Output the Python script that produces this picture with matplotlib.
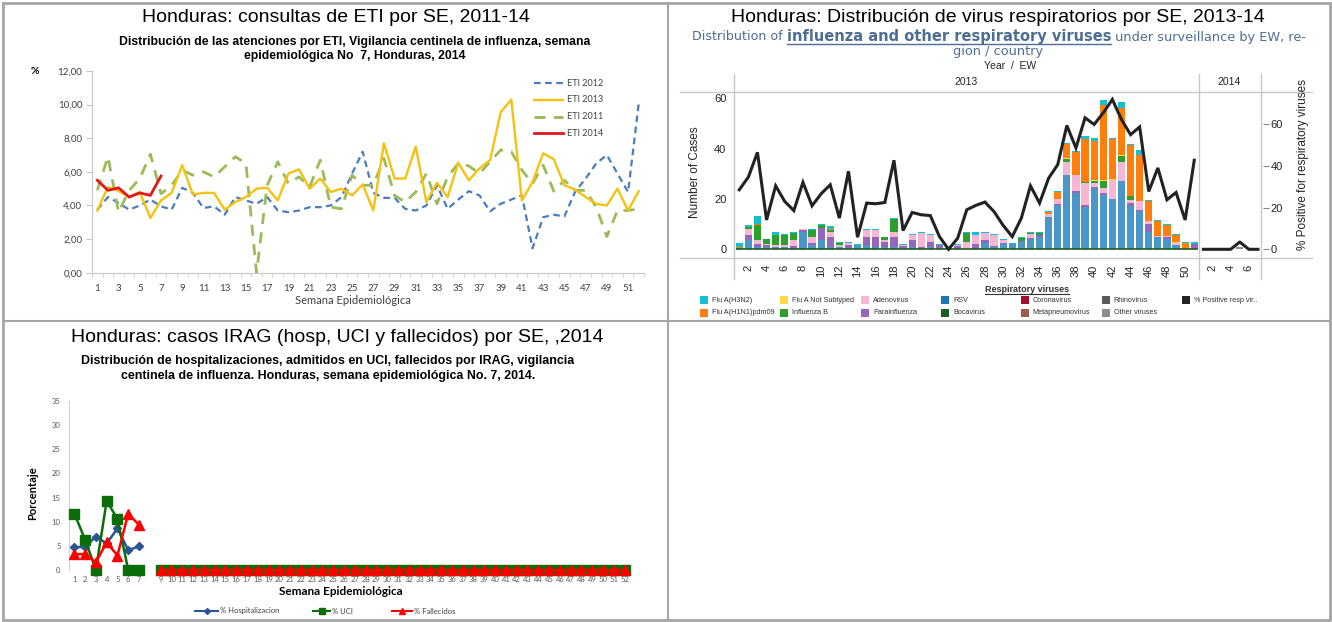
import matplotlib
matplotlib.use("Agg")
import matplotlib.pyplot as plt
from matplotlib.lines import Line2D
from matplotlib.patches import Rectangle
import numpy as np

plt.rcParams['font.family'] = ['Liberation Sans', 'DejaVu Sans']

W, H = 1332, 622
fig = plt.figure(figsize=(W / 100, H / 100), dpi=100)


def rect(l, t, r, b):
    return [l / W, 1 - b / H, (r - l) / W, (b - t) / H]


def fx(x):
    return x / W


def fy(y):
    return 1 - y / H


def fline(xs, ys, **kw):
    fig.add_artist(Line2D([fx(x) for x in xs], [fy(y) for y in ys],
                          transform=fig.transFigure, **kw))


# ---------------- data: ETI (panel 1) ----------------
eti_weeks = list(range(1, 53))
eti_2012 = [3.75, 4.5, 4.15, 3.75, 4.0, 4.35, 3.95, 3.75, 5.05, 4.75, 3.85, 3.95, 3.45,
            4.5, 4.3, 4.1, 4.5, 3.7, 3.6, 3.7, 3.9, 3.9, 4.0, 4.5, 5.9, 7.2, 4.75, 4.45,
            4.45, 3.8, 3.7, 4.0, 5.2, 3.8, 4.35, 4.85, 4.6, 3.65, 4.1, 4.35, 4.6, 1.45,
            3.3, 3.45, 3.35, 4.8, 5.6, 6.5, 7.0, 5.9, 4.8, 10.05]
eti_2013 = [3.7, 5.1, 4.85, 4.5, 4.8, 3.25, 4.3, 4.75, 6.4, 4.65, 4.75, 4.75, 3.75,
            4.2, 4.5, 5.0, 5.05, 4.3, 5.9, 6.15, 5.0, 5.6, 4.8, 5.0, 4.6, 5.25, 3.7,
            7.7, 5.6, 5.6, 7.5, 4.2, 5.35, 4.5, 6.55, 5.5, 6.2, 6.7, 9.55, 10.3, 4.3,
            5.4, 7.1, 6.75, 5.2, 4.95, 4.5, 4.1, 4.0, 5.0, 3.7, 4.85]
eti_2011 = [4.9, 6.9, 3.6, 4.9, 5.6, 7.05, 4.7, 5.2, 6.1, 5.8, 6.0, 5.7, 6.3, 6.9, 6.5,
            0.0, 5.2, 6.6, 5.3, 5.7, 5.1, 6.7, 3.9, 3.8, 5.8, 5.2, 5.2, 6.8, 4.6, 4.2,
            4.8, 5.9, 4.1, 5.7, 6.5, 6.35, 5.9, 6.6, 7.3, 7.2, 6.1, 5.3, 6.4, 4.85,
            5.5, 4.9, 4.9, 3.9, 2.15, 3.7, 3.7, 3.8]
eti_2014 = [5.5, 4.9, 5.05, 4.5, 4.75, 4.6, 5.75]

# ---------------- data: respiratory viruses (panel 2) ----------------
weeks_2013 = list(range(1, 52))
weeks_2014 = list(range(1, 8))
rsv = [0.5, 3.7, 1.0, 0.8, 1.0, 1.0, 0.3, 7.0, 1.7, 3.7, 1.0, 1.0, 0.3, 1.8, 1.7, 1.0,
       1.0, 1.0, 0.5, 1.0, 0.3, 1.0, 0.3, 0, 0.3, 0, 0.3, 2.4, 1.0, 2.1, 2.0, 2.8, 4.0,
       5.0, 13.0, 17.6, 29.5, 22.5, 17.0, 24.2, 21.6, 20.0, 27.2, 17.2, 15.2, 7.0, 4.8,
       4.1, 1.7, 0, 0.5] + [0] * 7
parainfluenza = [0, 2.0, 1.0, 0.8, 0, 0, 1.0, 0.6, 0.9, 4.9, 3.7, 0, 1.5, 0, 3.3, 3.7,
                 1.7, 3.7, 1.0, 2.6, 0.7, 1.7, 1.4, 0, 1.2, 0.3, 1.7, 1.1, 0.3, 0.5, 0,
                 0.6, 0.3, 0.7, 0, 0.3, 0, 0.8, 0.5, 0.7, 0.9, 0, 0, 1.1, 0.3, 3.0, 0,
                 0.7, 0, 0, 1.6] + [0] * 7
adenovirus = [0, 2.3, 1.7, 0.4, 0.6, 0.6, 2.4, 0.3, 2.1, 0, 2.0, 0.6, 0.8, 0, 2.6, 2.9,
              0.9, 2.0, 0.3, 1.9, 5.4, 2.8, 0, 0, 0.4, 2.4, 3.7, 2.8, 4.4, 1.2, 0, 0,
              1.6, 0, 0.9, 2.0, 5.3, 6.2, 8.7, 1.6, 1.7, 7.5, 7.4, 1.3, 3.6, 1.3, 0.3,
              0.3, 0.9, 0, 0] + [0] * 7
influenza_b = [0, 1.0, 6.0, 2.0, 4.0, 3.9, 2.9, 0, 2.9, 0.9, 0.9, 0.9, 0, 0, 0, 0, 1.1,
               5.2, 0, 0, 0, 0, 0, 0, 0, 3.7, 0, 0, 0, 0, 0, 1.0, 0.6, 0.9, 0, 0, 0.9,
               0, 0.7, 0.7, 2.9, 0, 2.3, 1.6, 0, 0, 0, 0, 0, 0, 0] + [0] * 7
flu_a_not_subtyped = [0] * 35 + [0.2, 0.4, 0, 0, 0.3, 0.4, 0.4, 0.4, 0, 0, 0, 0, 0, 0.3,
                                 0.3, 0] + [0] * 7
h1n1pdm09 = [0.4, 0, 0.4, 0, 0, 0, 0, 0, 0, 0, 0.3, 0, 0, 0, 0, 0, 0, 0, 0, 0, 0, 0, 0,
             0, 0, 0, 0, 0, 0, 0, 0, 0, 0, 0, 1.1, 2.6, 5.7, 9.3, 16.8, 15.6, 29.8, 15.8,
             18.8, 20.3, 18.3, 7.8, 6.0, 4.6, 2.6, 2.2, 0] + [0] * 7
h3n2 = [1.6, 0.7, 3.2, 0, 1.1, 0.4, 0.3, 0, 0.3, 0.5, 1.3, 0.4, 0.4, 0.5, 0.4, 0.4, 0.3,
        0.4, 0.3, 0.4, 0.4, 0.4, 0.5, 0.4, 0.4, 0.4, 1.1, 0.5, 0.4, 0.4, 0.4, 0.4, 0.5,
        0.4, 0.4, 0.3, 0.3, 0.3, 1.3, 1.3, 2.0, 0.4, 2.4, 0.3, 1.9, 0.4, 0.4, 0.4, 0.5,
        0.4, 0.8] + [0] * 7
other_viruses = [0] * 51 + [0, 0, 0, 0, 1.0, 0, 0]
pct_positive_2013 = [28.6, 34.7, 46.6, 14.1, 30.5, 23.0, 18.6, 32.2, 20.9, 26.7, 31.0,
                     15.0, 37.5, 5.8, 22.2, 21.9, 22.5, 42.8, 9.0, 17.7, 16.6, 16.2, 6.1,
                     0.0, 5.3, 19.0, 21.1, 22.7, 18.1, 11.5, 6.1, 15.0, 30.5, 22.2, 34.2,
                     40.7, 59.5, 48.7, 63.2, 60.0, 65.6, 72.0, 62.4, 55.1, 58.8, 27.8,
                     39.1, 23.8, 27.3, 14.1, 42.8]
pct_positive_2014 = [0, 0, 0, 0, 3.5, 0, 0]

# ---------------- data: IRAG (panel 3) ----------------
irag_weeks = list(range(1, 53))
hosp = [4.7, 4.8, 6.9, 5.5, 8.6, 4.1, 4.9, np.nan] + [0] * 44
uci = [11.7, 6.3, 0, 14.3, 10.6, 0, 0, np.nan] + [0] * 44
fallecidos = [3.3, 3.3, 1.6, 5.7, 3.0, 11.7, 9.3, np.nan] + [0] * 44

# ---------------- cell borders ----------------
border = '#a6a6a6'
fig.add_artist(Rectangle((fx(3), fy(620)), fx(1327), 617 / H, transform=fig.transFigure,
                         fill=False, edgecolor=border, lw=2))
fline([668, 668], [3, 620], color=border, lw=1.5)
fline([3, 1330], [321, 321], color=border, lw=1.5)

renderer = fig.canvas.get_renderer()

# ================= panel 1 =================
fig.text(fx(336), fy(17), 'Honduras: consultas de ETI por SE, 2011-14', ha='center',
         va='center', fontsize=14)
fig.text(fx(355), fy(42), 'Distribución de las atenciones por ETI, Vigilancia centinela de influenza, semana',
         ha='center', va='center', fontsize=8.8, fontweight='bold')
fig.text(fx(355), fy(56.5), 'epidemiológica No  7, Honduras, 2014', ha='center', va='center',
         fontsize=8.8, fontweight='bold')
fig.text(fx(35), fy(71), '%', ha='center', va='center', fontsize=7.5, fontweight='bold',
         family='Lato')

ax1 = fig.add_axes(rect(92, 71, 644, 272.7))
c2012, c2013, c2011, c2014 = '#4a7ebb', '#f5c211', '#9bbb59', '#e3161c'
ax1.plot(eti_weeks, eti_2012, color=c2012, lw=1.6, dashes=(3, 2))
ax1.plot(eti_weeks, eti_2011, color=c2011, lw=2.0, dashes=(4, 3))
ax1.plot(eti_weeks, eti_2013, color=c2013, lw=1.7)
ax1.plot(eti_weeks[:len(eti_2014)], eti_2014, color=c2014, lw=2.0)
ax1.set_xlim(0.5, 52.5)
ax1.set_ylim(0, 12)
ax1.set_yticks(np.arange(0, 13, 2))
ax1.set_yticklabels([f'{v:.2f}'.replace('.', ',') for v in np.arange(0, 13, 2)])
ax1.set_xticks(range(1, 53, 2))
ax1.set_xticks(np.arange(0.5, 53, 1), minor=True)
for s in ['top', 'right']:
    ax1.spines[s].set_visible(False)
for s in ['left', 'bottom']:
    ax1.spines[s].set_color('#c8c8c8')
ax1.tick_params(axis='x', which='major', length=0, pad=8)
ax1.tick_params(axis='x', which='minor', length=3, color='#c8c8c8')
ax1.tick_params(axis='y', length=4, color='#c8c8c8', pad=3)
for lab in ax1.get_xticklabels() + ax1.get_yticklabels():
    lab.set_family('Lato')
    lab.set_fontsize(7)
    lab.set_color('#404040')
fig.text(fx(353), fy(301), 'Semana Epidemiológica', ha='center', va='center', fontsize=8,
         family='Lato', color='#404040')

leg1 = [('ETI 2012', c2012, (3, 2), 1.6), ('ETI 2013', c2013, None, 1.7),
        ('ETI 2011', c2011, (4, 3), 2.0), ('ETI 2014', c2014, None, 2.0)]
for i, (lab, col, dsh, lw) in enumerate(leg1):
    y = 83 + i * 16.8
    kw = dict(color=col, lw=lw)
    if dsh:
        kw['dashes'] = dsh
    fline([534, 563], [y, y], **kw)
    fig.text(fx(567), fy(y), lab, ha='left', va='center', fontsize=6.5, family='Lato',
             color='#404040')

# ================= panel 2 =================
fig.text(fx(998), fy(17), 'Honduras: Distribución de virus respiratorios por SE, 2013-14',
         ha='center', va='center', fontsize=14)

sub_col = '#4d6d93'
# subtitle pieces with the width each one takes in the reference
pieces = [('Distribution of ', 'normal', False, 94),
          ('influenza and other respiratory viruses', 'bold', True, 321),
          (' under surveillance by EW, re-', 'normal', False, 195)]
x = 692
for txt, wt, ul, target in pieces:
    t = fig.text(fx(x), fy(37), txt, ha='left', va='center', fontsize=9, fontweight=wt,
                 color=sub_col, family='DejaVu Sans')
    w0 = t.get_window_extent(renderer).width
    t.set_fontsize(min(9 * target / w0, 10.5))
    w1 = t.get_window_extent(renderer).width
    if ul:
        fline([x, x + w1], [43.5, 43.5], color=sub_col, lw=1)
    x += w1
fig.text(fx(998), fy(51), 'gion / country', ha='center', va='center', fontsize=9.3,
         color=sub_col, family='DejaVu Sans')
fig.text(fx(1010), fy(66), 'Year  /  EW', ha='center', va='center', fontsize=7.5, color='#222222')
fig.text(fx(966), fy(82), '2013', ha='center', va='center', fontsize=7.5, color='#222222')
fig.text(fx(1229), fy(82), '2014', ha='center', va='center', fontsize=7.5, color='#222222')

grid_col = '#c8c8c8'
fline([680, 1312], [92, 92], color=grid_col, lw=1)
fline([680, 1312], [258, 258], color=grid_col, lw=1)
for xv in [734, 1198.5, 1261]:
    fline([xv, xv], [74, 279], color=grid_col, lw=1)

ax2 = fig.add_axes(rect(734.7, 92, 1262.5, 257.7))
ax2r = ax2.twinx()
xpos = np.array(weeks_2013 + [51 + w for w in weeks_2014])
series = [
    ('RSV', rsv, '#4a96c8'),
    ('Parainfluenza', parainfluenza, '#9467bd'),
    ('Adenovirus', adenovirus, '#f7b6d2'),
    ('Influenza B', influenza_b, '#2ca02c'),
    ('Flu A Not Subtyped', flu_a_not_subtyped, '#ffd94a'),
    ('Flu A(H1N1)pdm09', h1n1pdm09, '#ff7f0e'),
    ('Flu A(H3N2)', h3n2, '#17becf'),
    ('Other viruses', other_viruses, '#8c8c8c'),
]
bottom = np.zeros(len(xpos))
for name, vals, col in series:
    vals = np.array(vals, dtype=float)
    ax2.bar(xpos, vals, width=0.8, bottom=bottom, color=col, linewidth=0)
    bottom += vals
ax2.hlines(0, 0.6, 51.4, color='#1b5e20', lw=1.2)
ax2r.plot(weeks_2013, pct_positive_2013, color='#222222', lw=2.2, solid_joinstyle='miter')
ax2r.plot([51 + w for w in weeks_2014], pct_positive_2014, color='#222222', lw=2.2)
ax2.set_xlim(0.5, 58.5)
ax2.set_ylim(-3.34, 62.5)
ax2r.set_ylim(-4.04, 75.6)
ax2.set_yticks([0, 20, 40, 60])
ax2r.set_yticks([0, 20, 40, 60])
tick_pos = list(range(2, 51, 2)) + [51 + w for w in (2, 4, 6)]
tick_lab = [str(w) for w in range(2, 51, 2)] + ['2', '4', '6']
ax2.set_xticks(tick_pos)
ax2.set_xticklabels(tick_lab, rotation=90)
for a in (ax2, ax2r):
    for s in a.spines.values():
        s.set_visible(False)
ax2.tick_params(axis='x', length=0, pad=5, labelsize=8, labelcolor='#222222')
ax2.tick_params(axis='y', length=0, pad=6, labelsize=8, labelcolor='#222222')
ax2r.tick_params(axis='y', length=4, color='#888888', pad=2, labelsize=8, labelcolor='#222222')
fig.text(fx(695), fy(172), 'Number of Cases', rotation=90, ha='center', va='center',
         fontsize=8.5, color='#222222')
fig.text(fx(1303), fy(165), '% Positive for respiratory viruses', rotation=90, ha='center',
         va='center', fontsize=8.5, color='#222222')

# legend panel 2
t = fig.text(fx(1027), fy(289), 'Respiratory viruses', ha='center', va='center', fontsize=6.5,
             fontweight='bold', color='#333333')
bb = t.get_window_extent(renderer)
fline([bb.x0, bb.x1], [294, 294], color='#333333', lw=0.8)
leg2 = [
    [('Flu A(H3N2)', '#17becf'), ('Flu A Not Subtyped', '#ffd94a'), ('Adenovirus', '#f7b6d2'),
     ('RSV', '#1f77b4'), ('Coronavirus', '#a50f2d'), ('Rhinovirus', '#5a5a5a'),
     ('% Positive resp vir..', '#222222')],
    [('Flu A(H1N1)pdm09', '#ff7f0e'), ('Influenza B', '#2ca02c'), ('Parainfluenza', '#9467bd'),
     ('Bocavirus', '#1b5e20'), ('Metapneumovirus', '#9c5b4c'), ('Other viruses', '#8c8c8c')],
]
col_x = [700, 780, 861, 941, 1020.5, 1101.5, 1181.5]
for r, row in enumerate(leg2):
    y = 300.5 + r * 12
    for c, (lab, col) in enumerate(row):
        fig.add_artist(Rectangle((fx(col_x[c]), fy(y + 4)), 8 / W, 8 / H,
                                 transform=fig.transFigure, color=col, lw=0))
        fig.text(fx(col_x[c] + 12), fy(y), lab, ha='left', va='center', fontsize=5.2,
                 color='#333333')

# ================= panel 3 =================
fig.text(fx(337), fy(337), 'Honduras: casos IRAG (hosp, UCI y fallecidos) por SE, ,2014',
         ha='center', va='center', fontsize=14)
fig.text(fx(328), fy(361), 'Distribución de hospitalizaciones, admitidos en UCI, fallecidos por IRAG, vigilancia',
         ha='center', va='center', fontsize=8.9, fontweight='bold')
fig.text(fx(328), fy(376.5), 'centinela de influenza. Honduras, semana epidemiológica No. 7, 2014.',
         ha='center', va='center', fontsize=8.9, fontweight='bold')

ax3 = fig.add_axes(rect(68.9, 401, 630, 570))
c_hosp, c_uci, c_fall = '#2a5595', '#0a6e0a', '#ff0000'
ax3.plot(irag_weeks, hosp, color=c_hosp, lw=1.8, marker='D', ms=4, zorder=3)
ax3.plot(irag_weeks, uci, color=c_uci, lw=1.8, marker='s', ms=6.5, zorder=4)
ax3.plot(irag_weeks, fallecidos, color=c_fall, lw=1.8, marker='^', ms=7, zorder=5)
ax3.set_xlim(0.5, 52.5)
ax3.set_ylim(0, 35)
ax3.set_yticks(range(0, 36, 5))
ax3.set_xticks(irag_weeks)
ax3.set_xticklabels(['' if w == 8 else str(w) for w in irag_weeks])
for s in ['top', 'right', 'bottom']:
    ax3.spines[s].set_visible(False)
ax3.spines['left'].set_color('#d0d0d0')
ax3.tick_params(axis='both', length=0, labelsize=5.5, labelcolor='#595959')
ax3.tick_params(axis='y', pad=6)
ax3.tick_params(axis='x', pad=4)
for lab in ax3.get_xticklabels() + ax3.get_yticklabels():
    lab.set_family('Lato')
for ln in ax3.lines:
    ln.set_clip_on(False)
fig.text(fx(33), fy(493), 'Porcentaje', rotation=90, ha='center', va='center', fontsize=8,
         fontweight='bold', family='Lato')
fig.text(fx(341), fy(591.5), 'Semana Epidemiológica', ha='center', va='center', fontsize=8.5,
         fontweight='bold', family='Lato')

leg3 = [('% Hospitalizacion', c_hosp, 'D', 3, 195, 218),
        ('% UCI', c_uci, 's', 4, 313, 330),
        ('% Fallecidos', c_fall, '^', 4.5, 392, 412)]
for lab, col, mk, ms, x0, x1 in leg3:
    fline([x0, x1], [611, 611], color=col, lw=1.5)
    fline([(x0 + x1) / 2], [611], color=col, marker=mk, ms=ms, lw=0)
    fig.text(fx(x1 + 2), fy(611), lab, ha='left', va='center', fontsize=5.5, family='Lato',
             color='#404040')

fig.savefig('out.png', dpi=100)
